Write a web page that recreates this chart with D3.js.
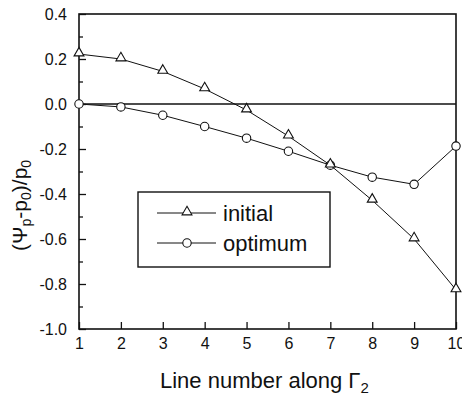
<!DOCTYPE html>
<html>
<head>
<meta charset="utf-8">
<script src="https://cdn.jsdelivr.net/npm/d3@7"></script>
<style>
body { margin: 0; background: #fff; }
text { font-family: "Liberation Sans", Arial, sans-serif; fill: #111; }
</style>
</head>
<body>
<script>
// line number along Gamma_2
var lineNumbers = [1, 2, 3, 4, 5, 6, 7, 8, 9, 10];
var initialValues = [0.222, 0.2, 0.145, 0.067, -0.027, -0.143, -0.272, -0.428, -0.6, -0.826];
var optimumValues = [0.0, -0.013, -0.05, -0.1, -0.152, -0.21, -0.272, -0.325, -0.357, -0.187];
var xTicks = [1, 2, 3, 4, 5, 6, 7, 8, 9, 10];
var yTicks = [0.4, 0.2, 0.0, -0.2, -0.4, -0.6, -0.8, -1.0];
var yMinorTicks = [0.3, 0.1, -0.1, -0.3, -0.5, -0.7, -0.9];

var width = 462, height = 402;
var plotLeft = 79, plotRight = 456, plotTop = 14, plotBottom = 329;

var svg = d3.select("body").append("svg")
    .attr("width", width)
    .attr("height", height);

var x = d3.scaleLinear().domain([1, 10]).range([plotLeft, plotRight]);
var y = d3.scaleLinear().domain([-1.0, 0.4]).range([plotBottom, plotTop]);

// frame
svg.append("rect")
    .attr("x", plotLeft).attr("y", plotTop)
    .attr("width", plotRight - plotLeft).attr("height", plotBottom - plotTop)
    .attr("fill", "none").attr("stroke", "#111").attr("stroke-width", 1.6);

// zero line
svg.append("line")
    .attr("x1", plotLeft).attr("x2", plotRight)
    .attr("y1", y(0)).attr("y2", y(0))
    .attr("stroke", "#111").attr("stroke-width", 1.6);

// axes with inward ticks
var fmt = d3.format(".1f");
var yAxis = svg.append("g")
    .attr("transform", "translate(" + plotLeft + ",0)")
    .call(d3.axisLeft(y).tickValues(yTicks).tickSize(-7).tickPadding(12)
        .tickFormat(function(d){ return fmt(d).replace("\u2212", "-"); }));
svg.append("g")
    .attr("transform", "translate(" + plotLeft + ",0)")
    .call(d3.axisLeft(y).tickValues(yMinorTicks).tickSize(-4).tickFormat(""));
var xAxis = svg.append("g")
    .attr("transform", "translate(0," + plotBottom + ")")
    .call(d3.axisBottom(x).tickValues(xTicks).tickSize(-7).tickPadding(9));

svg.selectAll(".domain").remove();
svg.selectAll(".tick line").attr("stroke", "#111").attr("stroke-width", 1.3);
svg.selectAll(".tick text")
    .style("font-size", "16px")
    .attr("fill", "#111");
yAxis.selectAll(".tick text").attr("dy", "0.36em");

var line = d3.line()
    .x(function(d, i){ return x(lineNumbers[i]); })
    .y(function(d){ return y(d); });

var triangle = d3.symbol().type(d3.symbolTriangle).size(42);

function drawSeries(values, marker){
    svg.append("path")
        .datum(values)
        .attr("d", line)
        .attr("fill", "none")
        .attr("stroke", "#111")
        .attr("stroke-width", 1);
    var g = svg.append("g");
    values.forEach(function(v, i){
        if (marker == "triangle"){
            g.append("path")
                .attr("d", triangle)
                .attr("transform", "translate(" + x(lineNumbers[i]) + "," + (y(v) - 1) + ")")
                .attr("fill", "#fff").attr("stroke", "#111").attr("stroke-width", 1.1);
        } else {
            g.append("circle")
                .attr("cx", x(lineNumbers[i])).attr("cy", y(v)).attr("r", 4.2)
                .attr("fill", "#fff").attr("stroke", "#111").attr("stroke-width", 1.1);
        }
    });
}

drawSeries(optimumValues, "circle");
drawSeries(initialValues, "triangle");

// legend
var legend = svg.append("g");
legend.append("rect")
    .attr("x", 138).attr("y", 192).attr("width", 192).attr("height", 75)
    .attr("fill", "#fff").attr("stroke", "#111").attr("stroke-width", 1.4);
var entries = [{name: "initial", marker: "triangle"}, {name: "optimum", marker: "circle"}];
entries.forEach(function(e, i){
    var cy = 213 + i * 30;
    legend.append("line")
        .attr("x1", 157).attr("x2", 216).attr("y1", cy).attr("y2", cy)
        .attr("stroke", "#111").attr("stroke-width", 1);
    if (e.marker == "triangle"){
        legend.append("path").attr("d", triangle)
            .attr("transform", "translate(187," + (cy - 1) + ")")
            .attr("fill", "#fff").attr("stroke", "#111").attr("stroke-width", 1.1);
    } else {
        legend.append("circle").attr("cx", 187).attr("cy", cy).attr("r", 4.2)
            .attr("fill", "#fff").attr("stroke", "#111").attr("stroke-width", 1.1);
    }
    legend.append("text")
        .attr("x", 223).attr("y", cy + 8)
        .style("font-size", "22px")
        .text(e.name);
});

// x axis title
var xt = svg.append("text")
    .attr("x", 160).attr("y", 388)
    .style("font-size", "22px");
xt.append("tspan").text("Line number along \u0393");
xt.append("tspan").attr("baseline-shift", "-30%").style("font-size", "15px").text("2");

// y axis title
var yt = svg.append("text")
    .attr("transform", "translate(27,251) rotate(-90)")
    .style("font-size", "21px");
yt.append("tspan").text("(\u03A8");
yt.append("tspan").attr("baseline-shift", "-30%").style("font-size", "14px").text("p");
yt.append("tspan").text("-p");
yt.append("tspan").attr("baseline-shift", "-30%").style("font-size", "14px").text("0");
yt.append("tspan").text(")/p");
yt.append("tspan").attr("baseline-shift", "-30%").style("font-size", "14px").text("0");
</script>
</body>
</html>
